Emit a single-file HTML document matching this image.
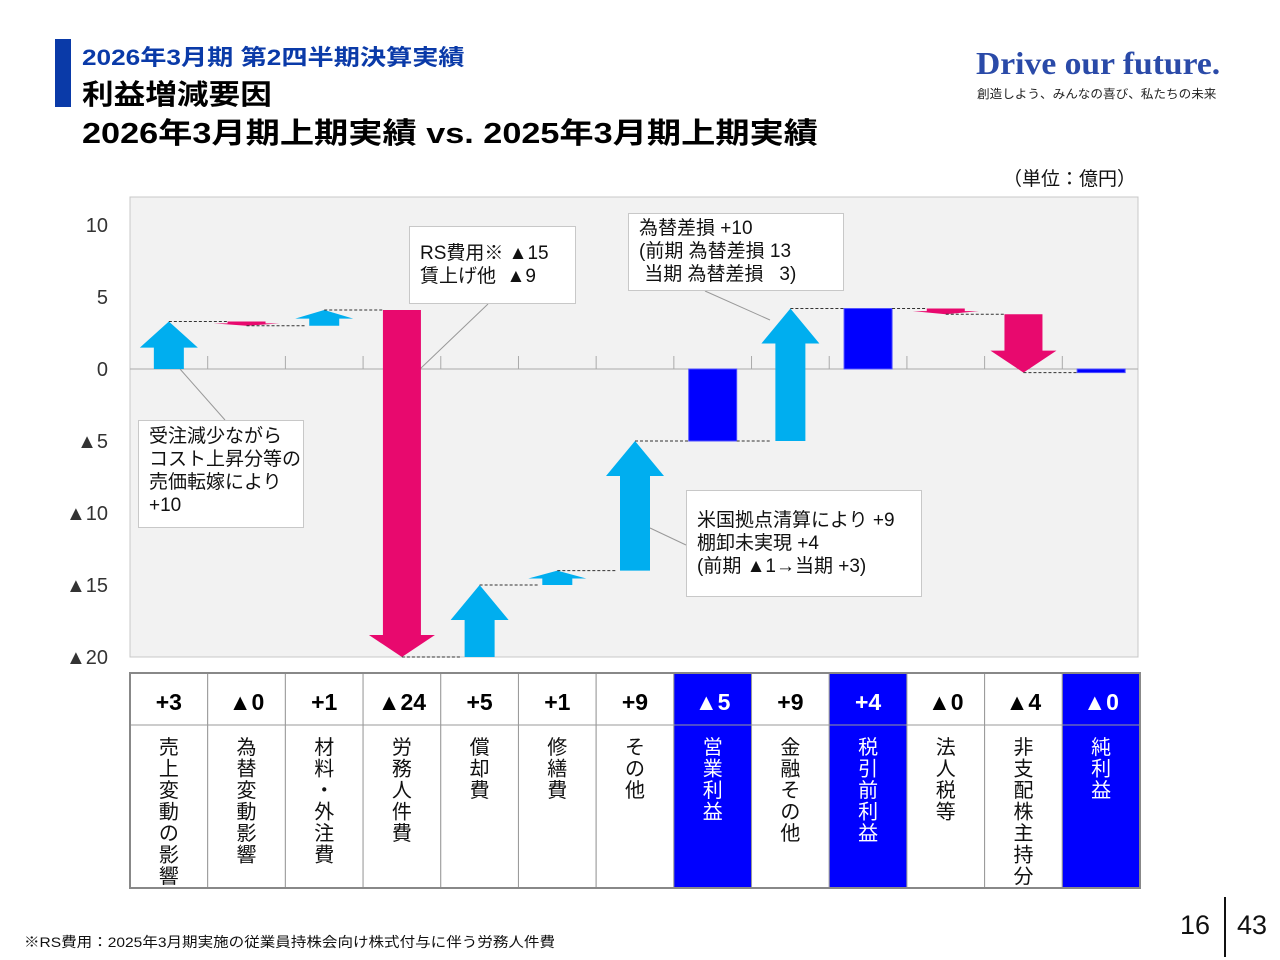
<!DOCTYPE html>
<html><head><meta charset="utf-8"><style>
body{margin:0;width:1280px;height:960px;background:#fff;font-family:"Liberation Sans","Noto Sans CJK JP",sans-serif;overflow:hidden;position:relative}
.abs{position:absolute;white-space:nowrap}
.box{position:absolute;background:#fff;border:1px solid #c8c8c8;font-size:19px;line-height:23px;color:#111;padding:4px 10px;box-sizing:border-box;white-space:pre}
</style></head><body>
<div class="abs" style="left:55px;top:39px;width:16px;height:68px;background:#0a3aa8"></div>
<div class="abs" style="left:82px;top:40px;font-size:22px;font-weight:bold;color:#0a3aa8;transform:scaleX(1.19);transform-origin:left">2026年3月期 第2四半期決算実績</div>
<div class="abs" style="left:82px;top:73px;font-size:28px;font-weight:bold;color:#000;transform:scaleX(1.13);transform-origin:left">利益増減要因</div>
<div class="abs" style="left:82px;top:110px;font-size:29px;font-weight:bold;color:#000;transform:scaleX(1.18);transform-origin:left">2026年3月期上期実績 vs. 2025年3月期上期実績</div>
<div class="abs" style="left:976px;top:45px;font-family:'Liberation Serif',serif;font-size:32px;font-weight:bold;color:#2a4aa8;transform:scaleX(1.05);transform-origin:left">Drive our future.</div>
<div class="abs" style="left:977px;top:85px;font-size:12px;color:#222;transform:scaleX(1.05);transform-origin:left">創造しよう、みんなの喜び、私たちの未来</div>
<div class="abs" style="left:1003px;top:164px;font-size:19px;color:#111">（単位：億円）</div>
<svg class="abs" style="left:0;top:0" width="1280" height="960" id="chart"></svg>
<div class="box" style="left:138px;top:420px;width:166px;height:108px">受注減少ながら
コスト上昇分等の
売価転嫁により
+10</div>
<div class="box" style="left:409px;top:226px;width:167px;height:78px;padding-top:15px">RS費用※ ▲15
賃上げ他  ▲9</div>
<div class="box" style="left:628px;top:213px;width:216px;height:78px;padding-top:3px">為替差損 +10
(前期 為替差損 13
 当期 為替差損   3)</div>
<div class="box" style="left:686px;top:490px;width:236px;height:107px;padding-top:18px">米国拠点清算により +9
棚卸未実現 +4
(前期 ▲1→当期 +3)</div>
<div class="abs" style="left:24px;top:932px;font-size:14px;color:#111;transform:scaleX(1.11);transform-origin:left">※RS費用：2025年3月期実施の従業員持株会向け株式付与に伴う労務人件費</div>
<div class="abs" style="left:1180px;top:910px;font-size:27px;color:#111">16</div>
<div class="abs" style="left:1224px;top:897px;width:2px;height:60px;background:#111"></div>
<div class="abs" style="left:1237px;top:910px;font-size:27px;color:#111">43</div>
<script>
const categories=["売上変動の影響","為替変動影響","材料・外注費","労務人件費","償却費","修繕費","その他","営業利益","金融その他","税引前利益","法人税等","非支配株主持分","純利益"];
const deltas=[3.3,-0.3,1.1,-24.1,5,1,9,0,9.2,0,-0.4,-4.05,0];
const isTotal=[false,false,false,false,false,false,false,true,false,true,false,false,true];
const printed=["+3","▲0","+1","▲24","+5","+1","+9","▲5","+9","+4","▲0","▲4","▲0"];
const yTicks=[10,5,0,-5,-10,-15,-20];
const yTickLabels=["10","5","0","▲5","▲10","▲15","▲20"];
const NS="http://www.w3.org/2000/svg",svg=document.getElementById("chart");
const px0=130,px1=1138,py0=197,py1=657,yMin=-20;
const Y=v=>369-v*14.4;
const colW=(1140-130)/13,X=i=>130+colW*(i+0.5);
function mk(t,a,p){const e=document.createElementNS(NS,t);for(const k in a)e.setAttribute(k,a[k]);(p||svg).appendChild(e);return e;}
const bg=mk("rect",{x:px0,y:py0,width:px1-px0,height:py1-py0,fill:"#f2f2f2",stroke:"#c8c8c8"});


yTicks.forEach((v,i)=>{const t=mk("text",{x:108,y:Y(v)+7,"text-anchor":"end","font-size":20,fill:"#333"});t.textContent=yTickLabels[i];

});
const zl=mk("line",{x1:px0,x2:px1,y1:Y(0),y2:Y(0),stroke:"#aaa","stroke-width":1});


for(let i=1;i<13;i++){const b=130+colW*i;const t=mk("line",{x1:b,x2:b,y1:Y(0)-13,y2:Y(0),stroke:"#aaa"});

}
[[180,369,225,420],[488,304,420,369],[705,291,770,320],[686,545,650,528]].forEach(l=>{const e=mk("line",{x1:l[0],y1:l[1],x2:l[2],y2:l[3],stroke:"#999"});

});
let cum=0,prevEnd=null,prevX=null;
categories.forEach((c,i)=>{
  const cx=X(i);let a,b,el;
  if(isTotal[i]){a=0;b=cum;
    const y1=Y(Math.max(a,b)),y2=Y(Math.min(a,b));
    el=mk("rect",{x:cx-24,y:y1,width:48,height:Math.max(y2-y1,3),fill:"#0000ff",stroke:"#5050ff"});
    
  } else {a=cum;b=Math.max(cum+deltas[i],yMin);cum=cum+deltas[i];
    const up=b>a,col=up?"#00aeef":"#e8096e",bw=up?15:19,hw=up?29:33;
    const ya=Y(a),yb=Y(b),h=Math.abs(yb-ya),hh=Math.min(up?35:22,h*0.55);
    const s=up?1:-1,yn=yb+s*hh;
    el=mk("polygon",{points:`${cx-bw},${ya} ${cx-bw},${yn} ${cx-hw},${yn} ${cx},${yb} ${cx+hw},${yn} ${cx+bw},${yn} ${cx+bw},${ya}`,fill:col});
    
  }
  
  if(prevEnd!==null){const d=mk("line",{x1:prevX,x2:cx-(isTotal[i]?24:19),y1:Y(prevEnd),y2:Y(prevEnd),stroke:"#333","stroke-dasharray":"3,2"});
    
    }
  prevEnd=isTotal[i]?cum:b;prevX=isTotal[i]?cx+24:cx;
  const x0=130+colW*i;
  const hc=mk("rect",{x:x0,y:673,width:colW,height:52,fill:isTotal[i]?"#0000ff":"#fff",stroke:"#999"});
  
  
  const nc=mk("rect",{x:x0,y:725,width:colW,height:163,fill:isTotal[i]?"#0000ff":"#fff",stroke:"#999"});
  
  
  const vt=mk("text",{x:x0+colW/2,y:710,"text-anchor":"middle","font-size":23,"font-weight":"bold",fill:isTotal[i]?"#fff":"#000"});vt.textContent=printed[i];
  
  
  [...c].forEach((ch,k)=>{const t=mk("text",{x:x0+colW/2,y:754+k*21.5,"text-anchor":"middle","font-size":20,fill:isTotal[i]?"#fff":"#111"});t.textContent=ch;
    
    });
});
const tb=mk("rect",{x:130,y:673,width:1010,height:215,fill:"none",stroke:"#888","stroke-width":2});


</script>
</body></html>
